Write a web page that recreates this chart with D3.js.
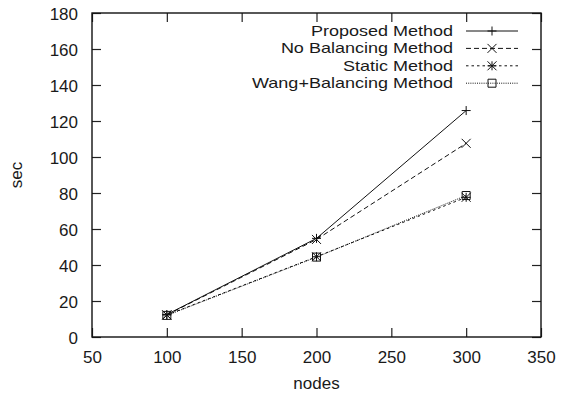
<!DOCTYPE html>
<html><head><meta charset="utf-8">
<script src="https://cdn.jsdelivr.net/npm/d3@7"></script>
<style>body{margin:0;background:#fff}svg{display:block}text{font-family:"Liberation Sans",Arial,sans-serif;fill:#1a1a1a}</style>
</head><body>
<script>
const nodes = [100, 200, 300];
const seriesNames = ["Proposed Method", "No Balancing Method", "Static Method", "Wang+Balancing Method"];
const proposed = [12.5, 54.8, 125.8];
const noBalancing = [12.3, 54.2, 107.6];
const staticMethod = [12.2, 44.6, 77.6];
const wangBalancing = [12.0, 44.4, 78.6];
const xTicks = [50, 100, 150, 200, 250, 300, 350];
const yTicks = [0, 20, 40, 60, 80, 100, 120, 140, 160, 180];

const W = 565, H = 397;
const m = {left: 92, right: 24, top: 13, bottom: 60};
const svg = d3.select("body").append("svg").attr("width", W).attr("height", H);
const x = d3.scaleLinear().domain([50, 350]).range([m.left, W - m.right]);
const y = d3.scaleLinear().domain([0, 180]).range([H - m.bottom, m.top]);
const fs = "17px";

const series = [
  {name: seriesNames[0], vals: proposed, dash: null, marker: "plus"},
  {name: seriesNames[1], vals: noBalancing, dash: "5,3", marker: "cross"},
  {name: seriesNames[2], vals: staticMethod, dash: "2.5,3", marker: "star"},
  {name: seriesNames[3], vals: wangBalancing, dash: "1,1.2", marker: "box"}
];

const tl = 9;
const axB = d3.axisBottom(x).tickValues(xTicks).tickSizeInner(-tl).tickSizeOuter(0).tickPadding(14);
const axT = d3.axisTop(x).tickValues(xTicks).tickSizeInner(-tl).tickSizeOuter(0).tickFormat("");
const axL = d3.axisLeft(y).tickValues(yTicks).tickSizeInner(-tl).tickSizeOuter(0).tickPadding(14);
const axR = d3.axisRight(y).tickValues(yTicks).tickSizeInner(-tl).tickSizeOuter(0).tickFormat("");
function style(g){ g.select(".domain").remove(); g.selectAll("line").attr("stroke","#222").attr("stroke-width",1.2);
  g.selectAll("text").attr("font-size",fs).attr("font-family","Liberation Sans, Arial, sans-serif").attr("fill","#1a1a1a"); }
svg.append("g").attr("transform",`translate(0,${y(0)})`).call(axB).call(style);
svg.append("g").attr("transform",`translate(0,${y(180)})`).call(axT).call(style);
const gL = svg.append("g").attr("transform",`translate(${x(50)},0)`).call(axL).call(style);
svg.append("g").attr("transform",`translate(${x(350)},0)`).call(axR).call(style);
gL.selectAll("text").attr("dy","0.36em");
svg.append("rect").attr("x",x(50)).attr("y",y(180)).attr("width",x(350)-x(50)).attr("height",y(0)-y(180))
  .attr("fill","none").attr("stroke","#111").attr("stroke-width",1.4);

svg.append("text").attr("x",(x(50)+x(350))/2).attr("y",389).attr("text-anchor","middle").attr("font-size",fs).text("nodes");
svg.append("text").attr("transform",`translate(22,${(y(0)+y(180))/2}) rotate(-90)`).attr("text-anchor","middle").attr("font-size",fs).text("sec");

function marker(g, type, cx, cy){
  const s = 4.5;
  const p = d3.path();
  if (type==="plus"||type==="star"){ p.moveTo(cx-s,cy); p.lineTo(cx+s,cy); p.moveTo(cx,cy-s); p.lineTo(cx,cy+s); }
  if (type==="cross"||type==="star"){ p.moveTo(cx-s,cy-s); p.lineTo(cx+s,cy+s); p.moveTo(cx-s,cy+s); p.lineTo(cx+s,cy-s); }
  if (type==="box"){ p.rect(cx-4,cy-4,8,8); }
  g.append("path").attr("d",p.toString()).attr("fill","none").attr("stroke","#111").attr("stroke-width",1);
}

const line = d3.line().x((d,i)=>x(nodes[i])).y(d=>y(d));
series.forEach(s=>{
  const g = svg.append("g");
  g.append("path").datum(s.vals).attr("d",line).attr("fill","none").attr("stroke","#111").attr("stroke-width",1)
    .attr("stroke-dasharray",s.dash);
  s.vals.forEach((v,i)=>marker(g,s.marker,x(nodes[i]),y(v)));
});

const lg = svg.append("g");
series.forEach((s,i)=>{
  const ry = 31 + i*17.4;
  const t = lg.append("text").attr("x",453).attr("y",ry+5).attr("text-anchor","end").attr("font-size","15px").text(s.name);
  const len = t.node().getComputedTextLength();
  t.attr("textLength", len*1.2).attr("lengthAdjust","spacingAndGlyphs");
  lg.append("line").attr("x1",466).attr("x2",518).attr("y1",ry).attr("y2",ry).attr("stroke","#111").attr("stroke-width",1)
    .attr("stroke-dasharray",s.dash);
  marker(lg,s.marker,492,ry);
});
</script>
</body></html>
